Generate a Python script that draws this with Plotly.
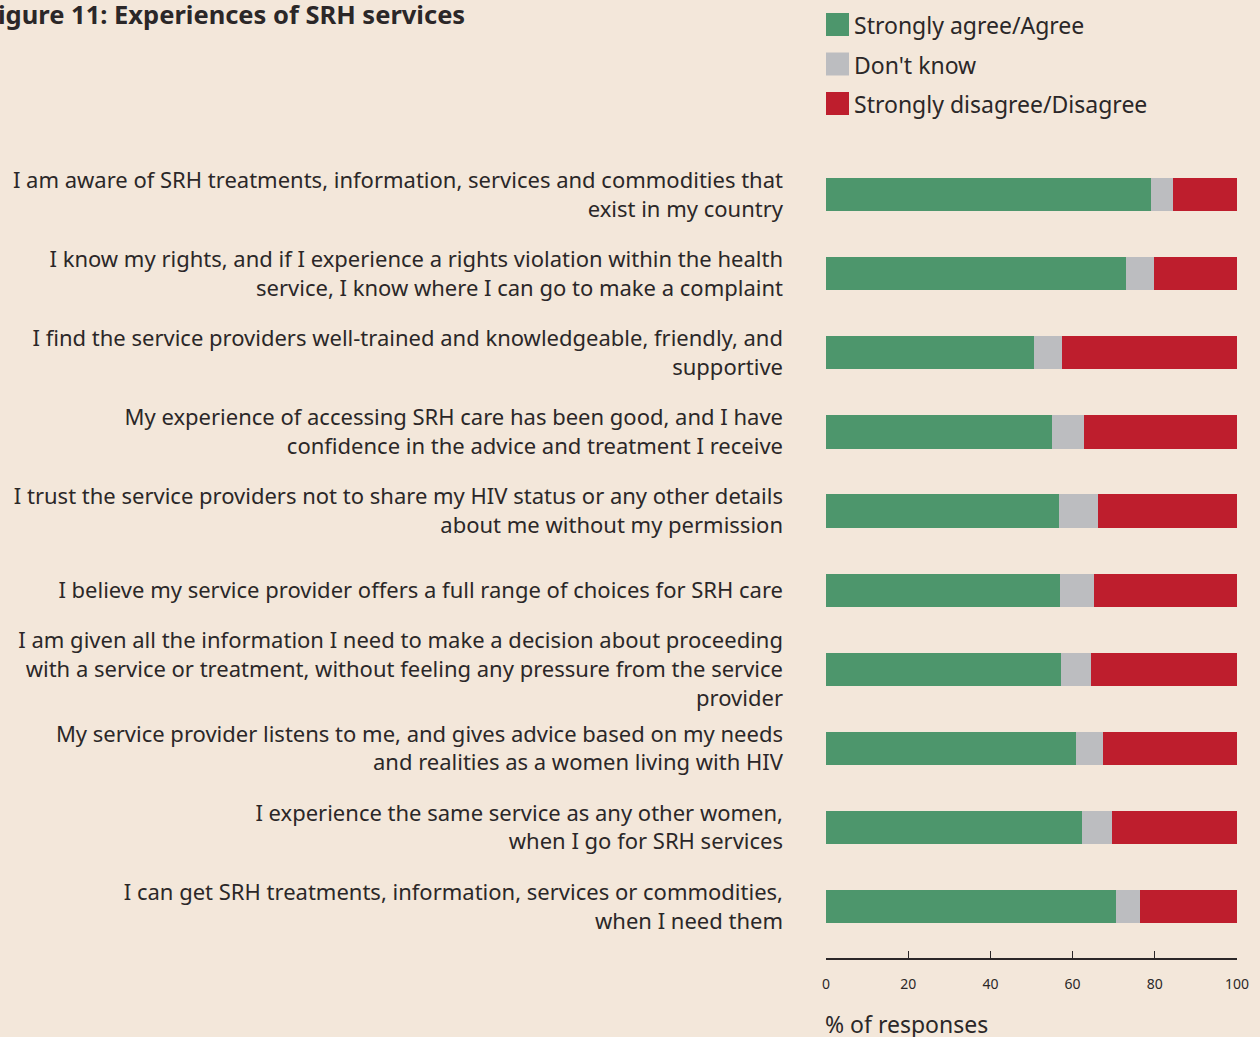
import plotly.graph_objects as go

statements = [
    "I am aware of SRH treatments, information, services and commodities that<br>exist in my country",
    "I know my rights, and if I experience a rights violation within the health<br>service, I know where I can go to make a complaint",
    "I find the service providers well-trained and knowledgeable, friendly, and<br>supportive",
    "My experience of accessing SRH care has been good, and I have<br>confidence in the advice and treatment I receive",
    "I trust the service providers not to share my HIV status or any other details<br>about me without my permission",
    "I believe my service provider offers a full range of choices for SRH care",
    "I am given all the information I need to make a decision about proceeding<br>with a service or treatment, without feeling any pressure from the service<br>provider",
    "My service provider listens to me, and gives advice based on my needs<br>and realities as a women living with HIV",
    "I experience the same service as any other women,<br>when I go for SRH services",
    "I can get SRH treatments, information, services or commodities,<br>when I need them",
]
agree = [79.1, 73.0, 50.6, 55.0, 56.7, 56.9, 57.2, 60.8, 62.3, 70.6]
dont_know = [5.3, 6.8, 6.8, 7.8, 9.5, 8.3, 7.3, 6.6, 7.3, 5.8]
disagree = [15.6, 20.2, 42.6, 37.2, 33.8, 34.8, 35.5, 32.6, 30.4, 23.6]
series_names = ["Strongly agree/Agree", "Don't know", "Strongly disagree/Disagree"]
x_ticks = [0, 20, 40, 60, 80, 100]

colors = ["#4d966c", "#bcbdc0", "#be1e2d"]
BG = "#f3e7da"
TXT = "#2b2728"
FONT = "Noto Sans"

fig = go.Figure()
for name, vals, col in zip(series_names, [agree, dont_know, disagree], colors):
    fig.add_trace(go.Bar(
        y=statements, x=vals, name=name, orientation="h",
        marker=dict(color=col, line=dict(width=0)), width=0.42,
        showlegend=False,
    ))

# plot area pixel geometry
L, R, T, B = 826, 23, 155, 79
W, H = 1260, 1037
pw, ph = W - L - R, H - T - B

def px2x(px):
    return (px - L) / pw

def py2y(py):
    return (H - B - py) / ph

shapes = []
annotations = []
for i, (name, col) in enumerate(zip(series_names, colors)):
    top = 13 + i * 39.5
    shapes.append(dict(type="rect", xref="paper", yref="paper",
                       x0=px2x(826), x1=px2x(849), y0=py2y(top + 23), y1=py2y(top),
                       fillcolor=col, line=dict(width=0)))
    annotations.append(dict(text=name, xref="paper", yref="paper",
                            x=px2x(852), y=py2y(top + 12), xanchor="left", yanchor="middle",
                            showarrow=False, font=dict(family=FONT, size=23, color=TXT)))

annotations.append(dict(text="<b>Figure 11: Experiences of SRH services</b>", xref="paper", yref="paper",
                        x=px2x(-18), y=py2y(14), xanchor="left", yanchor="middle",
                        showarrow=False, font=dict(family=FONT, size=25.5, color=TXT)))
annotations.append(dict(text="% of responses", xref="paper", yref="paper",
                        x=px2x(823), y=py2y(1024), xanchor="left", yanchor="middle",
                        showarrow=False, font=dict(family=FONT, size=23, color=TXT)))

fig.update_layout(
    width=W, height=H, barmode="stack",
    paper_bgcolor=BG, plot_bgcolor=BG,
    margin=dict(l=L, r=R, t=T, b=B, pad=0),
    font=dict(family=FONT, color=TXT),
    shapes=shapes, annotations=annotations,
    xaxis=dict(range=[0, 100], tickvals=x_ticks, ticks="inside", ticklen=7, tickwidth=1.3,
               tickcolor=TXT, showline=True, linecolor=TXT, linewidth=1.5,
               showgrid=False, zeroline=False, ticklabelstandoff=12,
               tickfont=dict(family=FONT, size=14, color=TXT), fixedrange=True),
    yaxis=dict(categoryorder="array", categoryarray=statements, range=[9.65, -0.5],
               showgrid=False, zeroline=False, showline=False, ticks="",
               ticklabelstandoff=42, tickfont=dict(family=FONT, size=22, color=TXT)),
)

fig.write_html("out.html", config={"displayModeBar": False},
               post_script="document.body.style.margin='0';document.body.style.overflow='hidden';")
